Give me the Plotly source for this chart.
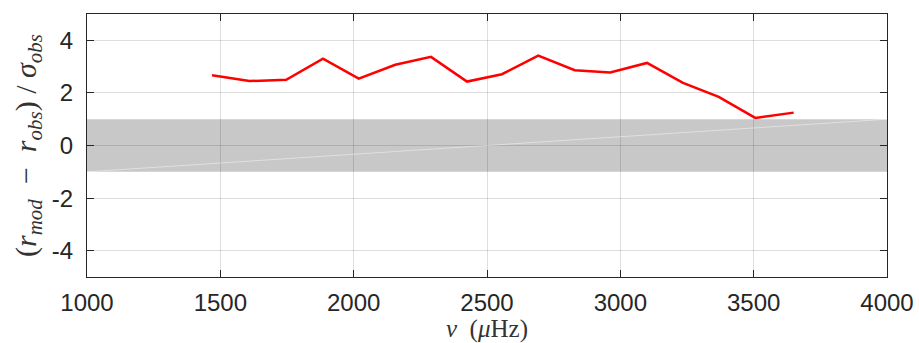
import plotly.graph_objects as go

# Data
nu = [1469, 1609, 1747, 1885, 2019, 2156, 2290, 2425, 2556, 2692,
      2829, 2962, 3100, 3235, 3369, 3506, 3650]
resid = [2.67, 2.45, 2.50, 3.30, 2.54, 3.07, 3.37, 2.43, 2.71, 3.42,
         2.86, 2.78, 3.14, 2.38, 1.85, 1.05, 1.25]

band_x = [1000, 4000]
band_lo = -1
band_hi = 1

x_ticks = [1000, 1500, 2000, 2500, 3000, 3500, 4000]
x_labels = ["1000", "1500", "2000", "2500", "3000", "3500", "4000"]
y_ticks = [-4, -2, 0, 2, 4]
y_labels = ["-4", "-2", "0", "2", "4"]

axis_col = "#262626"
grid_col = "rgba(0,0,0,0.13)"
tick_font = dict(family="Liberation Sans, Arial, sans-serif", size=24, color=axis_col)
title_font = dict(family="Liberation Serif, DejaVu Serif, serif", size=30, color="#333333")

fig = go.Figure()

# seam of the shaded patch (diagonal)
fig.add_trace(go.Scatter(
    x=band_x, y=[band_lo, band_hi], mode="lines",
    line=dict(color="rgba(255,255,255,0.55)", width=0.8),
    hoverinfo="skip", showlegend=False))

fig.add_trace(go.Scatter(
    x=nu, y=resid, mode="lines",
    line=dict(color="#ff0000", width=2.5),
    showlegend=False))

fig.add_shape(type="rect", xref="x", yref="y",
              x0=band_x[0], x1=band_x[1], y0=band_lo, y1=band_hi,
              fillcolor="#c8c8c8", line=dict(width=0), layer="below")

fig.update_xaxes(
    range=[1000, 4000], tickvals=x_ticks, ticktext=x_labels,
    showgrid=True, gridcolor=grid_col, gridwidth=1, zeroline=False,
    showline=True, linecolor=axis_col, linewidth=1, mirror="ticks",
    ticks="inside", ticklen=7, tickcolor=axis_col, tickwidth=1,
    tickfont=tick_font, ticklabelstandoff=4, automargin=False,
    title=dict(text="<i>ν</i>  (<i>μ</i>Hz)", font=dict(title_font, size=25), standoff=2))

fig.update_yaxes(
    range=[-5, 5], tickvals=y_ticks, ticktext=y_labels,
    showgrid=True, gridcolor=grid_col, gridwidth=1, zeroline=False,
    showline=True, linecolor=axis_col, linewidth=1, mirror="ticks",
    ticks="inside", ticklen=7, tickcolor=axis_col, tickwidth=1,
    tickfont=tick_font, ticklabelstandoff=8, automargin=False,
    title=dict(text="(<i>r</i><sub><i>mod</i></sub>  −  <i>r</i><sub><i>obs</i></sub>) / <i>σ</i><sub><i>obs</i></sub>",
               font=title_font, standoff=6))

fig.update_layout(
    width=919, height=343,
    margin=dict(l=87, r=32, t=14, b=66),
    paper_bgcolor="white", plot_bgcolor="white",
)

fig.write_html("out.html")
